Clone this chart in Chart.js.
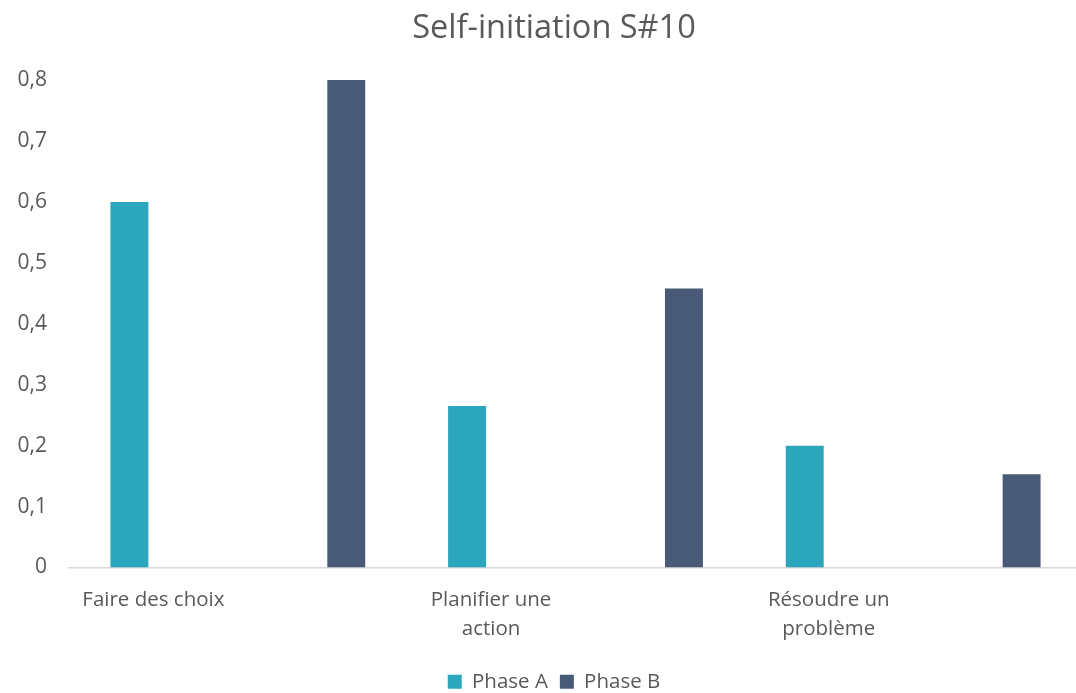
<!DOCTYPE html>
<html>
<head>
<meta charset="utf-8">
<script src="https://cdn.jsdelivr.net/npm/chart.js@4"></script>
<style>
  html, body { margin: 0; padding: 0; background: #fff; overflow: hidden; }
  #wrap { width: 1076px; height: 693px; overflow: hidden; }
</style>
</head>
<body>
<div id="wrap"><canvas id="selfInitChart" width="1108" height="702"></canvas></div>
<script>
// Categories (every other slot is unlabelled, as in the original sheet)
const categories = ['Faire des choix', '', ['Planifier une', 'action'], '', ['Résoudre un', 'problème'], ''];
const phaseA = [0.6, null, 0.265, null, 0.2, null];
const phaseB = [null, 0.8, null, 0.458, null, 0.153];
const yMax = 0.8;
const yStep = 0.1;

const textGrey = '#595959';
Chart.defaults.font.family = "'Open Sans', sans-serif";
Chart.defaults.color = textGrey;

const ctx = document.getElementById('selfInitChart').getContext('2d');
const selfInitChart = new Chart(ctx, {
    type: 'bar',
    data: {
        labels: categories,
        datasets: [
            { label: 'Phase A', data: phaseA, backgroundColor: '#2ba6bd' },
            { label: 'Phase B', data: phaseB, backgroundColor: '#485a77' }
        ]
    },
    options: {
        responsive: false,
        animation: false,
        categoryPercentage: 0.569,
        barPercentage: 0.79,
        layout: { padding: 0 },
        scales: {
            x: {
                grid: { display: false },
                border: { display: true, color: '#d9d9d9', width: 1.5 },
                afterFit: function(scale) { scale.height = 92; },
                ticks: {
                    autoSkip: false,
                    maxRotation: 0,
                    padding: 10,
                    font: { size: 20.5, lineHeight: 1.42 },
                    color: textGrey
                }
            },
            y: {
                min: 0,
                max: yMax,
                grid: { display: false, drawTicks: false },
                border: { display: false },
                afterFit: function(scale) { scale.width = 69; },
                ticks: {
                    stepSize: yStep,
                    padding: 22,
                    font: { size: 21 },
                    color: textGrey,
                    callback: function(value) {
                        return value === 0 ? '0' : value.toFixed(1).replace('.', ',');
                    }
                }
            },
            // empty spacer on the right so title and legend sit where the original has them
            spacer: {
                type: 'linear',
                position: 'right',
                grid: { display: false, drawTicks: false },
                border: { display: false },
                ticks: { display: false },
                afterFit: function(scale) { scale.width = 26; }
            }
        },
        plugins: {
            title: {
                display: true,
                text: 'Self-initiation S#10',
                color: textGrey,
                font: { size: 32.5, weight: 'normal' },
                padding: { top: 9, bottom: 32 }
            },
            legend: {
                position: 'bottom',
                labels: {
                    boxWidth: 14,
                    boxHeight: 14,
                    padding: 12,
                    font: { size: 20.5 },
                    color: textGrey
                }
            },
            tooltip: { enabled: false }
        }
    }
});
</script>
</body>
</html>
